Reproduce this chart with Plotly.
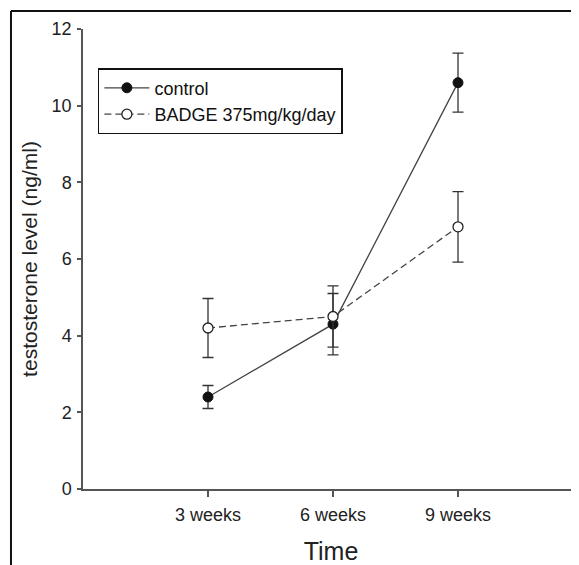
import plotly.graph_objects as go

time_labels = ["3 weeks", "6 weeks", "9 weeks"]
time_pos = [0, 1, 2]

control_mean = [2.4, 4.3, 10.6]
control_err = [0.3, 0.8, 0.77]

badge_mean = [4.2, 4.5, 6.84]
badge_err = [0.77, 0.8, 0.92]

FONT = "Liberation Sans, Arial, sans-serif"

fig = go.Figure()

fig.add_trace(go.Scatter(
    x=time_pos, y=control_mean, name="control",
    mode="lines+markers",
    line=dict(color="#444444", width=1.3, dash="solid"),
    marker=dict(symbol="circle", size=10, color="#111111",
                line=dict(color="#111111", width=1)),
    error_y=dict(type="data", array=control_err, visible=True,
                 color="#333333", thickness=1.3, width=5.5),
))

fig.add_trace(go.Scatter(
    x=time_pos, y=badge_mean, name="BADGE 375mg/kg/day",
    mode="lines+markers",
    line=dict(color="#444444", width=1.3, dash="7px,4px"),
    marker=dict(symbol="circle", size=10, color="white",
                line=dict(color="#222222", width=1.3)),
    error_y=dict(type="data", array=badge_err, visible=True,
                 color="#333333", thickness=1.3, width=5.5),
))

# The page body has an 8px default margin, so the figure is placed 8px in.
fig.update_layout(
    width=571, height=557,
    margin=dict(l=75, r=0, t=21, b=76, autoexpand=False),
    paper_bgcolor="white", plot_bgcolor="white",
    font=dict(family=FONT, color="#222222"),
    showlegend=True,
    legend=dict(
        x=0.03, y=0.915, xanchor="left", yanchor="top",
        bgcolor="white", bordercolor="#111111", borderwidth=1.5,
        font=dict(family=FONT, size=18, color="#111111"),
        itemwidth=45, tracegroupgap=0,
    ),
    xaxis=dict(
        range=[-1, 2.968], tickvals=time_pos, ticktext=time_labels,
        automargin=False,
        showline=True, linecolor="#555555", linewidth=1.5,
        ticks="outside", ticklen=6, tickcolor="#555555", tickwidth=1.5,
        ticklabelstandoff=3,
        showgrid=False, zeroline=False,
        tickfont=dict(size=18, color="#222222"),
        title=dict(text="Time", font=dict(size=25, color="#222222"), standoff=20),
    ),
    yaxis=dict(
        range=[0, 12], tickvals=[0, 2, 4, 6, 8, 10, 12],
        automargin=False,
        showline=True, linecolor="#555555", linewidth=1.5,
        ticks="outside", ticklen=4, tickcolor="#555555", tickwidth=1.5,
        ticklabelstandoff=2,
        showgrid=False, zeroline=False,
        tickfont=dict(size=18, color="#222222"),
        title=dict(text="testosterone level (ng/ml)", font=dict(size=21, color="#222222"), standoff=8),
    ),
    shapes=[
        dict(type="line", xref="paper", yref="paper",
             x0=-0.1452, x1=1.1, y0=1.0391, y1=1.0391,
             line=dict(color="#111111", width=2)),
        dict(type="line", xref="paper", yref="paper",
             x0=-0.1452, x1=-0.1452, y0=1.0391, y1=-0.3,
             line=dict(color="#111111", width=2)),
    ],
)

fig.write_html("out.html")
